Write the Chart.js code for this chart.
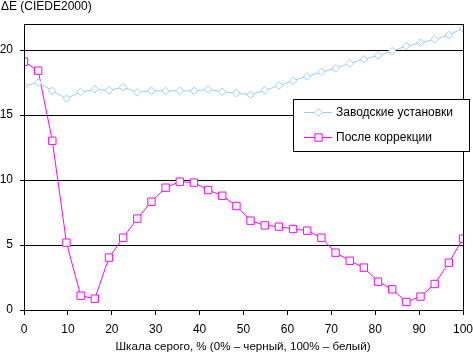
<!DOCTYPE html>
<html><head><meta charset="utf-8">
<script src="https://cdn.jsdelivr.net/npm/chart.js@4/dist/chart.umd.min.js"></script>
<style>html,body{margin:0;padding:0;background:#fff}#w{width:473px;height:353px;position:relative}</style>
</head><body><div id="w"><canvas id="c"></canvas></div>
<script>
const yTitle = "ΔE (CIEDE2000)";
const xTitle = "Шкала серого, % (0% – черный, 100% – белый)";
const seriesNames = ["Заводские установки", "После коррекции"];
const factory = [17.23,17.49,16.87,16.26,16.77,16.97,16.9,17.13,16.74,16.87,16.85,16.87,16.85,16.97,16.79,16.68,16.56,16.9,17.26,17.64,17.97,18.3,18.59,18.97,19.28,19.59,19.92,20.3,20.56,20.82,21.15,21.67];
const corrected = [19.1,18.41,13.02,5.18,1.1,0.87,4.03,5.56,7.03,8.33,9.41,9.87,9.8,9.23,8.79,8.0,6.87,6.51,6.41,6.23,6.1,5.56,4.41,3.79,3.26,2.18,1.59,0.62,1.03,2.0,3.64,5.49];
const grayLevels = factory.map((_, i) => i * 100 / 31);
const yTicks = [0, 5, 10, 15, 20];

const FONT = 'Arial, "Liberation Sans", sans-serif';
const toPts = arr => arr.map((v, i) => ({x: grayLevels[i], y: v}));

const extras = {
  id: 'extras',
  afterDraw(chart) {
    const {ctx, chartArea: a} = chart;
    ctx.save();
    ctx.strokeStyle = '#000'; ctx.lineWidth = 1;
    ctx.strokeRect(Math.round(a.left) + 0.5, Math.round(a.top) + 0.5, Math.round(a.right - a.left), Math.round(a.bottom - a.top));
    ctx.fillStyle = '#000';
    ctx.font = '12px ' + FONT;
    ctx.textBaseline = 'middle';
    ctx.textAlign = 'left';
    ctx.fillText(yTitle, 1, 7);
    ctx.textAlign = 'center';
    ctx.font = '11.6px ' + FONT;
    ctx.fillText(xTitle, 243, 347);
    // legend
    const lx = 293.5, ly = 99.5, lw = 176, lh = 52;
    ctx.fillStyle = '#fff';
    ctx.fillRect(lx, ly, lw, lh);
    ctx.strokeRect(lx, ly, lw, lh);
    const rows = [112, 137];
    chart.data.datasets.forEach((ds, i) => {
      const y = rows[i] + 0.5;
      ctx.strokeStyle = ds.borderColor; ctx.lineWidth = 1;
      ctx.beginPath(); ctx.moveTo(304, y); ctx.lineTo(332, y); ctx.stroke();
      ctx.fillStyle = '#fff';
      Chart.helpers.drawPoint(ctx, {pointStyle: ds.pointStyle, radius: ds.pointRadius, borderWidth: 1}, 318.5, y);
      ctx.fillStyle = '#000';
      ctx.textAlign = 'left';
      ctx.font = '12px ' + FONT;
      ctx.fillText(ds.label, 336, rows[i] + 1);
    });
    ctx.restore();
  }
};

new Chart(document.getElementById('c'), {
  type: 'line',
  data: {
    datasets: [
      {label: seriesNames[0], data: toPts(factory), borderColor: '#99ccff', backgroundColor: '#ffffff', borderWidth: 1,
       pointStyle: 'rectRot', pointRadius: 3.8, pointBorderWidth: 1, pointBackgroundColor: '#fff', pointBorderColor: '#99ccff', tension: 0},
      {label: seriesNames[1], data: toPts(corrected), borderColor: '#ff00ff', backgroundColor: '#ffffff', borderWidth: 1,
       pointStyle: 'rect', pointRadius: 5.2, pointBorderWidth: 1, pointBackgroundColor: '#fff', pointBorderColor: '#ff00ff', tension: 0}
    ]
  },
  options: {
    responsive: true, maintainAspectRatio: false, animation: false,
    layout: {padding: {top: 24, right: 10, left: 0, bottom: 0}},
    plugins: {legend: {display: false}, tooltip: {enabled: false}},
    scales: {
      x: {type: 'linear', min: 0, max: 100,
          afterFit(s) { s.height = 43; s.paddingLeft = 0; s.paddingRight = 0; },
          ticks: {stepSize: 10, color: '#000', font: {family: FONT, size: 12}, padding: 7, maxRotation: 0},
          grid: {drawOnChartArea: false, color: '#000', tickLength: 5, tickColor: '#000'},
          border: {color: '#000'}},
      y: {min: 0, max: 22,
          afterFit(s) { s.width = 24; s.paddingTop = 0; s.paddingBottom = 0; },
          afterBuildTicks(s) { s.ticks = yTicks.map(v => ({value: v})); },
          ticks: {color: '#000', font: {family: FONT, size: 12}, padding: 7},
          grid: {color: '#000', tickLength: 4, tickColor: '#000'},
          border: {color: '#000'}}
    }
  },
  plugins: [extras]
});
</script></body></html>
